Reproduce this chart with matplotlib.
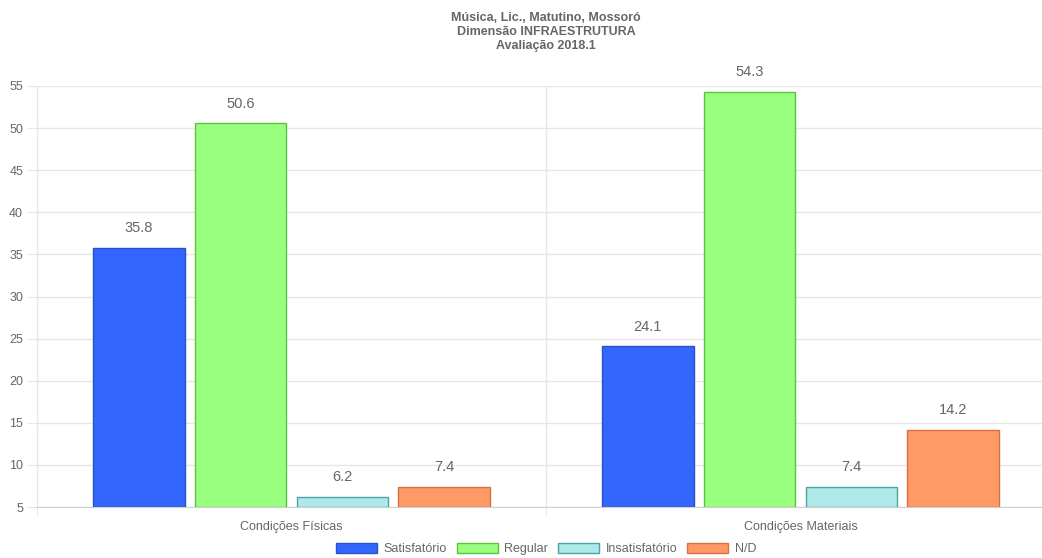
import numpy as np
import matplotlib.pyplot as plt
from matplotlib.patches import Patch

categorias = ['Condições Físicas', 'Condições Materiais']
series = ['Satisfatório', 'Regular', 'Insatisfatório', 'N/D']
satisfatorio = [35.8, 24.1]
regular = [50.6, 54.3]
insatisfatorio = [6.2, 7.4]
nd = [7.4, 14.2]
yticks = [5, 10, 15, 20, 25, 30, 35, 40, 45, 50, 55]

valores = [satisfatorio, regular, insatisfatorio, nd]
cores = ['#3366ff', '#99ff7f', '#aee8e8', '#ff9966']
bordas = ['#2a4fcc', '#5cc23f', '#4fa3a3', '#d8713f']

plt.rcParams['font.family'] = ['Liberation Sans', 'DejaVu Sans']
cinza = '#666666'
grade = '#e6e6e6'

fig = plt.figure(figsize=(10.42, 5.58), dpi=100)
# a area do grafico passa da borda direita, como no original
ax = fig.add_axes([37/1042, 51/558, 1018/1042, 421/558])

x = np.arange(len(categorias))
largura = 0.18
offsets = [-0.3, -0.1, 0.1, 0.3]
base = 5
for vals, cor, borda, off in zip(valores, cores, bordas, offsets):
    alturas = [v - base for v in vals]
    barras = ax.bar(x + off, alturas, largura, bottom=base, color=cor,
                    edgecolor=borda, linewidth=1, zorder=3)
    for b, v in zip(barras, vals):
        ax.annotate(f'{v}', (b.get_x() + b.get_width() / 2, v),
                    xytext=(0, 9), textcoords='offset points',
                    ha='center', va='bottom', fontsize=10.5, color=cinza)

ax.set_xlim(-0.5, 1.5)
ax.set_ylim(5, 55)
ax.set_yticks(yticks)
ax.set_xticks(x)
ax.set_xticklabels(categorias)
ax.set_xticks([-0.5, 0.5, 1.5], minor=True)

ax.grid(axis='y', color=grade, linewidth=1, zorder=0)
ax.grid(axis='x', which='minor', color=grade, linewidth=1, zorder=0)
ax.tick_params(axis='y', length=7, color=grade, labelcolor=cinza, labelsize=9, pad=3)
ax.tick_params(axis='x', which='major', length=0, labelcolor=cinza, labelsize=9, pad=10)
ax.tick_params(axis='x', which='minor', length=7, color=grade)
for lado in ['top', 'right']:
    ax.spines[lado].set_visible(False)
ax.spines['left'].set_color(grade)
ax.spines['bottom'].set_color('#d0d0d0')

fig.text(546/1042, 1 - 32/558, 'Música, Lic., Matutino, Mossoró\nDimensão INFRAESTRUTURA\nAvaliação 2018.1',
         ha='center', va='center', fontsize=9, fontweight='bold', color=cinza,
         linespacing=1.2)

handles = [Patch(facecolor=c, edgecolor=b) for c, b in zip(cores, bordas)]
fig.legend(handles, series, loc='center', bbox_to_anchor=(546/1042, 1 - 549/558), ncol=4,
           frameon=False, fontsize=9, handlelength=3.3, handleheight=0.9,
           columnspacing=0.8, handletextpad=0.5, labelcolor=cinza)

fig.savefig('out.png', dpi=100)
